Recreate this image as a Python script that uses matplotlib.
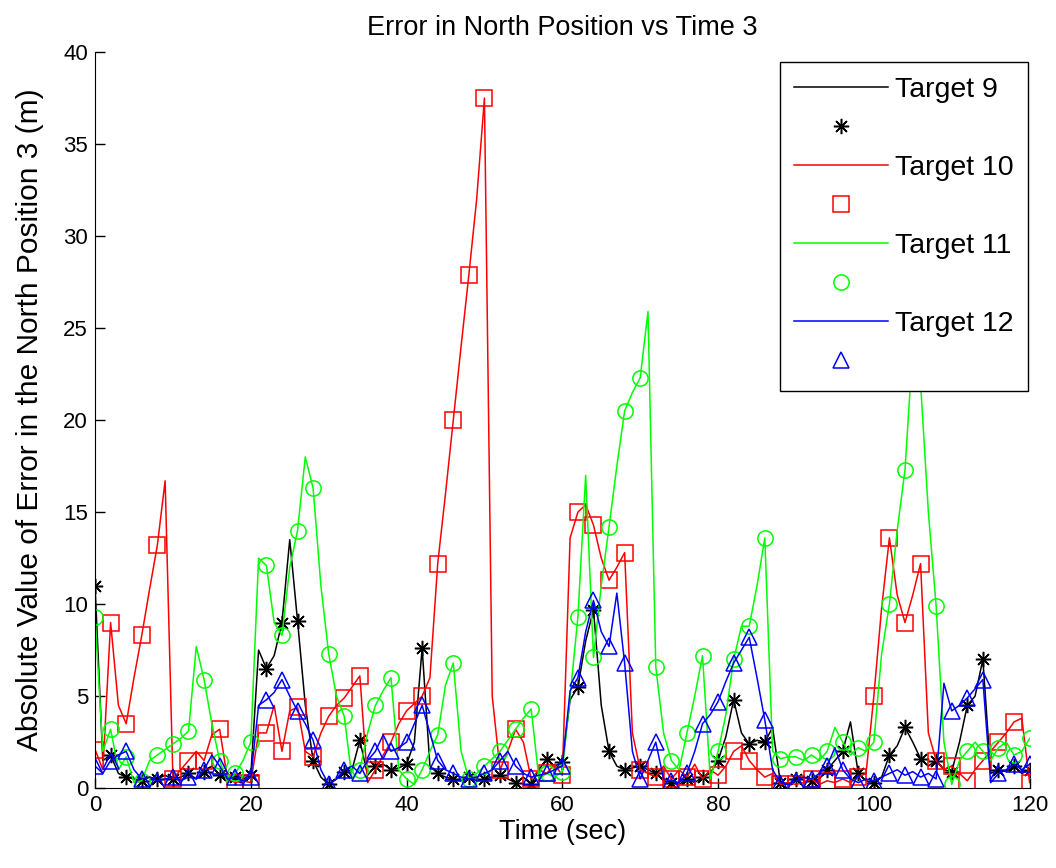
import matplotlib
matplotlib.use("Agg")
import matplotlib.pyplot as plt
import numpy as np
from matplotlib.lines import Line2D

plt.rcParams["font.family"] = ["Liberation Sans", "DejaVu Sans"]

# time grid (sec), one sample per second
time_s = np.arange(0, 121)

target9 = [
    11.0, 1.5, 1.8, 0.8, 0.6, 0.5, 0.4, 0.6, 0.5, 0.7,
    0.5, 0.6, 0.8, 0.5, 0.9, 1.2, 0.7, 0.5, 0.6, 0.5,
    0.7, 7.5, 6.5, 7.2, 9.0, 13.5, 9.1, 4.5, 1.5, 0.6,
    0.2, 0.5, 0.9, 1.0, 2.6, 0.7, 1.2, 1.3, 1.0, 1.1,
    1.3, 2.5, 7.6, 1.2, 0.8, 0.6, 0.5, 0.4, 0.6, 0.4,
    0.5, 0.6, 0.7, 0.5, 0.3, 0.6, 0.2, 1.0, 1.6, 1.2,
    1.4, 4.8, 5.5, 8.0, 9.7, 4.5, 2.0, 1.2, 1.0, 1.1,
    1.2, 1.0, 0.8, 0.4, 0.3, 0.2, 0.5, 0.3, 0.6, 0.8,
    1.5, 2.8, 4.8, 3.0, 2.4, 2.6, 2.5, 3.3, 0.3, 0.2,
    0.5, 0.6, 0.4, 0.5, 1.0, 1.5, 2.0, 3.6, 0.8, 0.4,
    0.3, 0.6, 1.8, 2.3, 3.3, 2.5, 1.6, 1.2, 1.5, 1.0,
    0.9, 2.5, 4.5, 5.0, 7.0, 0.8, 1.0, 0.9, 1.2, 0.8,
    1.0,
]

target10 = [
    2.1, 1.0, 9.0, 4.5, 3.5, 6.0, 8.3, 10.8, 13.2, 16.7,
    0.5, 1.0, 1.5, 2.0, 1.5, 2.9, 3.2, 0.5, 0.3, 0.4,
    0.3, 3.0, 3.0, 4.5, 2.0, 4.2, 4.4, 2.0, 1.7, 3.0,
    3.9, 4.5, 4.9, 5.5, 6.1, 0.3, 1.0, 1.8, 2.5, 3.5,
    4.2, 4.6, 5.0, 6.0, 12.2, 16.0, 20.0, 24.0, 27.9, 32.0,
    37.5, 5.0, 1.0, 2.0, 3.2, 2.5, 0.5, 1.0, 0.8, 1.3,
    0.7, 13.6, 15.0, 15.4, 14.3, 12.5, 11.3, 12.0, 12.8, 3.0,
    1.0, 0.8, 0.6, 1.2, 0.5, 1.0, 0.6, 1.3, 0.5, 1.0,
    0.7, 1.2, 2.0, 2.3, 1.5, 1.0, 0.6, 0.8, 0.2, 0.3,
    0.2, 0.3, 0.5, 0.2, 0.4, 0.3, 0.5, 0.3, 0.6, 0.8,
    5.0, 9.8, 13.6, 10.5, 9.0, 10.5, 12.2, 3.0, 1.5, 1.0,
    1.2, 0.8, 0.4, 1.0, 1.5, 2.0, 2.5, 3.0, 3.6, 3.8,
    0.3,
]

target11 = [
    9.3, 2.0, 3.2, 1.0, 1.7, 0.3, 0.4, 1.5, 1.8, 2.1,
    2.4, 2.7, 3.1, 7.7, 5.9, 3.5, 1.5, 0.3, 0.8, 1.5,
    2.5, 12.5, 12.1, 9.0, 8.3, 12.0, 14.0, 18.0, 16.3, 11.0,
    7.3, 5.0, 3.9, 0.5, 1.0, 3.0, 4.5, 5.3, 6.0, 1.0,
    0.5, 0.2, 1.0, 2.0, 2.9, 5.6, 6.8, 2.0, 0.5, 0.8,
    1.2, 1.6, 2.0, 2.6, 3.2, 3.8, 4.3, 0.5, 0.8, 0.6,
    0.9, 5.0, 9.3, 17.0, 7.1, 11.0, 14.2, 17.5, 20.5, 21.5,
    22.3, 25.9, 6.6, 3.0, 1.5, 1.0, 3.0, 5.0, 7.2, 0.5,
    2.0, 4.0, 7.0, 8.8, 8.8, 11.0, 13.6, 2.0, 1.6, 1.7,
    1.7, 1.5, 1.8, 1.5, 2.0, 3.3, 2.5, 1.8, 2.2, 2.0,
    2.5, 7.3, 10.0, 14.0, 17.3, 24.0, 22.0, 15.0, 9.9, 2.5,
    0.2, 1.5, 2.0, 2.5, 2.0, 1.5, 2.2, 2.5, 1.8, 2.0,
    2.7,
]

target12 = [
    1.2, 0.8, 1.5, 1.8, 2.0, 1.0, 0.5, 0.6, 0.4, 0.5,
    0.6, 0.4, 0.6, 0.5, 1.0, 1.8, 1.2, 0.5, 0.6, 0.4,
    0.6, 4.5, 4.8, 5.2, 5.9, 5.0, 4.2, 3.5, 2.6, 1.0,
    0.2, 0.5, 1.0, 1.2, 0.8, 1.5, 2.0, 2.9, 2.0, 2.2,
    2.5, 3.5, 4.5, 3.0, 1.5, 1.0, 0.8, 0.6, 0.5, 0.6,
    0.8, 1.0, 1.5, 2.0, 1.2, 0.8, 0.6, 0.7, 0.8, 1.0,
    1.2, 5.3, 6.0, 8.5, 10.2, 8.5, 7.7, 10.6, 6.8, 2.0,
    0.5, 1.5, 2.5, 0.5, 0.4, 0.3, 0.8, 2.0, 3.5, 4.0,
    4.7, 5.8, 6.8, 7.5, 8.2, 6.0, 3.7, 1.0, 0.3, 0.2,
    0.4, 0.6, 0.5, 0.8, 1.2, 2.2, 1.0, 0.5, 0.3, 0.5,
    0.4, 0.6, 0.8, 1.0, 0.7, 0.9, 0.6, 0.8, 0.5, 5.7,
    4.2, 4.5, 4.9, 5.4, 5.9, 0.3, 0.8, 1.0, 1.3, 1.0,
    1.3,
]

labels = ["Target 9", "Target 10", "Target 11", "Target 12"]
series = [target9, target10, target11, target12]
colors = ["black", "red", "#00ff00", "blue"]
markers = [(8, 2, 0), "s", "o", "^"]   # matlab-style asterisk for the first
msizes = [11, 11, 11, 11]

fig = plt.figure(figsize=(10.56, 8.68), dpi=100)
ax = fig.add_axes([0.090, 0.092, 0.885, 0.848])

handles, hlabels = [], []
for vals, lab, c, m, ms in zip(series, labels, colors, markers, msizes):
    ax.plot(time_s, vals, color=c, lw=1.1)
    ax.plot(time_s[::2], vals[::2], ls="none", marker=m, ms=ms, mfc="none",
            mec=c, mew=1.1)
    handles.append(Line2D([], [], color=c, lw=1.1))
    hlabels.append(lab)
    handles.append(Line2D([], [], ls="none", marker=m, ms=ms, mfc="none",
                          mec=c, mew=1.1))
    hlabels.append(" ")

ax.set_xlim(0, 120)
ax.set_ylim(0, 40)
ax.set_xticks(range(0, 121, 20))
ax.set_yticks(range(0, 41, 5))
ax.tick_params(direction="in", length=7, labelsize=16, width=1, pad=5)
for s in ["top", "right"]:
    ax.spines[s].set_visible(False)
ax.set_xlabel("Time (sec)", fontsize=19.5, labelpad=2)
ax.set_ylabel("Absolute Value of Error in the North Position 3 (m)",
              fontsize=21.5, labelpad=14)
ax.set_title("Error in North Position vs Time 3", fontsize=19.5, pad=12)

leg = ax.legend(handles, hlabels, loc="upper right", fontsize=20.5,
                handlelength=3.3, labelspacing=0.46, handletextpad=0.25,
                borderpad=0.5, borderaxespad=0, fancybox=False,
                framealpha=1, bbox_to_anchor=(0.998, 0.986))
leg.get_frame().set_edgecolor("black")
leg.get_frame().set_linewidth(1.0)

fig.savefig("out.png", dpi=100)
